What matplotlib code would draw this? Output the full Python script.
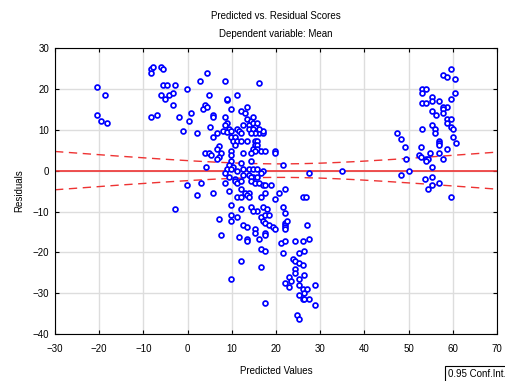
import numpy as np
import matplotlib
matplotlib.use("Agg")
import matplotlib.pyplot as plt

plt.rcParams['font.family'] = ['Liberation Sans', 'DejaVu Sans']
plt.rcParams['font.size'] = 7

# predicted values and residuals (pairs in order)
pred = [-20.4, -18.6, -20.4, -19.5, -18.2, -8.3, -7.8, -8.3, -6.0, -5.6,
        -5.6, -4.7, -2.8, -6.0, -5.1, -4.2, -3.3, -3.3, -8.3, -6.9,
        -1.9, -0.1, 0.8, 0.3, -1.0, 2.1, 2.9, -0.2, 3.0, 4.2,
        3.9, 4.8, 4.4, 3.9, 3.5, 4.4, 5.0, -2.9,
        5.7, 5.7, 5.7, 6.6, 9.8, 8.9, 8.4, 12.1, 13.4, 13.0,
        8.9, 8.4, 9.3, 8.0, 8.9, 9.8, 11.2, 11.6, 12.1,
        13.4, 14.3, 13.9, 14.8, 15.2, 15.7,
        13.9, 14.8, 15.7, 16.1, 17.0, 15.2, 14.3,
        9.8, 10.7, 10.2, 11.2, 10.7, 12.1, 13.4,
        15.2, 15.7, 15.2, 15.7, 14.8, 15.7,
        7.1, 6.6, 7.5, 7.1, 6.6, 5.3, 9.8, 9.8, 12.5,
        15.2, 14.3, 16.6, 17.4, 19.7, 19.7, 14.3, 9.8, 12.1,
        9.3, 10.2, 8.9, 9.8, 11.2, 12.5, 13.9, 14.8, 15.7, 17.0, 16.6,
        21.5, 27.4, 35.0,
        8.4, 9.3, 10.7, 12.5, 13.9, 14.8, 15.7, 14.3,
        2.1, 5.7, 8.4, 10.7, 11.2, 12.1, 14.3, 15.2, 16.1, 17.0, 17.4, 18.8,
        9.3, 12.1, 13.0, 13.9, 13.4, 11.2, 12.1, 13.9, 16.6, 17.4,
        22.0, 20.6, 19.7, 26.2, 26.7,
        9.8, 12.1, 14.3, 15.7, 17.0, 17.9, 14.8, 21.5, 22.0,
        7.1, 9.8, 9.8, 11.2, 16.6, 17.4, 18.4, 17.0, 17.4, 18.4, 19.3, 19.7,
        22.0, 22.0, 22.0, 22.5, 22.0, 27.0,
        12.5, 13.4, 15.2, 15.2, 17.4, 17.4, 16.1, 13.4, 13.4, 11.6, 7.5,
        21.1, 22.0, 24.3, 26.1, 27.4, 21.5, 25.1, 26.4,
        16.6, 17.4, 12.1, 16.6, 9.8, 17.4,
        23.8, 24.3, 25.1, 26.1, 24.3, 24.3, 22.9, 23.3, 22.0, 22.9,
        25.1, 26.4, 25.1, 26.1, 27.0, 26.4, 25.1, 26.1, 26.4, 27.4,
        28.8, 28.8, 24.7, 25.1,
        8.4, 16.1, 4.8, 11.2, 8.9, 14.8, 12.5, 17.0, 16.1,
        59.5, 57.7, 58.6, 60.4, 53.1, 54.0, 53.1, 60.4, 59.5, 53.1,
        54.0, 55.4, 55.4, 56.8, 58.6, 57.7, 57.7, 55.4, 56.3, 57.7,
        58.6, 59.5, 58.6, 59.5, 60.0, 55.4, 55.9, 55.9, 53.1, 60.0,
        60.8, 56.8, 56.8, 56.8, 52.7, 58.6, 54.9, 56.8, 52.3, 52.7,
        54.0, 54.5, 57.7, 55.4, 53.6, 55.4, 56.8, 55.4, 54.5, 59.5,
        54.0, 47.3, 48.2, 49.1, 49.5, 50.0, 48.2]

resid = [20.4, 18.5, 13.6, 12.2, 11.7, 24.9, 25.4, 23.9, 25.4, 24.9,
         21.0, 21.0, 21.0, 18.6, 17.6, 18.6, 19.0, 16.1, 13.2, 13.6,
         13.2, 20.0, 14.1, 12.2, 9.7, 9.2, 22.0, -3.4, -3.0, 0.9,
         4.3, 4.3, 23.9, 16.1, 15.1, 15.6, 10.7, -9.3,
         13.6, 13.2, 8.3, 9.2, 15.1, 17.2, 13.2, 14.6, 15.6, 14.1,
         11.7, 11.2, 10.2, 9.7, 9.4, 9.7, 10.2, 9.7, 9.2,
         12.7, 12.2, 11.2, 11.7, 10.7, 11.7,
         10.2, 10.2, 9.7, 9.2, 9.2, 9.2, 9.2,
         8.3, 8.3, 7.3, 7.3, 6.3, 7.3, 7.3,
         7.3, 7.3, 6.3, 6.3, 5.3, 5.3,
         6.0, 5.3, 4.3, 3.4, 2.9, 3.8, 4.8, 3.8, 4.3,
         4.8, 4.3, 4.8, 4.8, 4.8, 4.3, 2.4, 2.4, 1.9,
         1.4, 0.9, 0.4, 0.4, -0.1, 0.4, 0.4, 0.4, 0.4, -0.1, -0.6,
         1.4, -0.6, -0.2,
         -0.6, -1.5, -2.0, -1.1, -1.1, -1.5, -1.5, -1.5,
         -6.0, -5.5, -3.0, -2.5, -3.0, -2.5, -2.5, -3.0, -3.0, -3.5, -3.5, -3.5,
         -5.0, -4.5, -5.5, -5.5, -6.0, -6.4, -6.4, -6.4, -6.4, -5.5,
         -4.5, -5.5, -6.9, -6.4, -6.4,
         -8.4, -9.4, -8.9, -9.9, -8.9, -9.4, -9.9, -8.9, -10.4,
         -11.8, -10.9, -12.3, -11.3, -11.3, -10.9, -10.9, -12.3, -12.8, -13.3, -13.8, -14.3,
         -12.8, -13.3, -13.8, -12.3, -14.3, -13.3,
         -13.3, -13.8, -14.3, -15.3, -15.3, -15.8, -16.7, -16.7, -17.2, -16.3, -15.8,
         -17.7, -17.2, -17.2, -17.2, -16.7, -20.2, -20.2, -19.7,
         -19.2, -19.7, -22.1, -23.6, -26.5, -32.4,
         -21.6, -22.1, -22.6, -23.1, -24.1, -25.0, -26.1, -27.0, -27.5, -28.5,
         -26.5, -25.6, -28.0, -29.0, -29.0, -30.0, -30.5, -31.4, -31.4, -31.4,
         -28.0, -32.9, -35.4, -36.4,
         22.0, 21.5, 18.6, 18.6, 17.6, 13.2, 11.2, 9.7, 10.2,
         24.9, 23.5, 23.0, 22.5, 20.0, 20.0, 19.0, 19.0, 17.6, 16.6,
         16.6, 18.1, 17.1, 17.1, 15.6, 15.6, 15.1, 14.6, 13.6, 14.1,
         12.7, 12.7, 11.7, 10.7, 10.2, 11.2, 10.2, 9.2, 10.2, 8.3,
         6.8, 7.3, 6.8, 6.3, 5.8, 5.3, 4.3, 4.3, 3.8, 3.4,
         2.9, 2.9, 2.9, 0.9, -2.0, -1.5, -3.0, -3.5, -4.5, -6.4,
         2.4, 9.2, 7.8, 5.8, 2.9, -0.1, -1.1]

x = np.array(pred)
r = np.array(resid)

# 95% confidence band of the residual-on-predicted fit (fit line is zero)
n = len(x)
s = np.sqrt(np.sum(r ** 2) / (n - 2))
sxx = np.sum((x - x.mean()) ** 2)
xs = np.linspace(-30, 70, 200)
half = 1.97 * s * np.sqrt(1.0 / n + (xs - x.mean()) ** 2 / sxx)

fig = plt.figure(figsize=(5.06, 3.81), dpi=100)
ax = fig.add_axes([0.1087, 0.123, 0.8735, 0.751])

ax.axhline(0, color='#ee3333', lw=1.2, zorder=2)
ax.plot(xs, half, color='#ee3333', lw=1.0, dashes=(6, 4), zorder=2)
ax.plot(xs, -half, color='#ee3333', lw=1.0, dashes=(6, 4), zorder=2)
ax.plot(x, r, 'o', ms=3.5, mec='#0000ff', mfc='white', mew=1.25, ls='none', zorder=3)

ax.set_xlim(-30, 70)
ax.set_ylim(-40, 30)
ax.set_xticks(range(-30, 71, 10))
ax.set_yticks(range(-40, 31, 10))
ax.grid(True, color='#dddddd', lw=1.0)
ax.set_axisbelow(True)
ax.tick_params(axis='x', direction='in', length=3, width=0.8, top=True, labelsize=7, pad=7)
ax.tick_params(axis='y', direction='in', length=3, width=0.8, right=True, labelsize=7, pad=4)
for sp in ax.spines.values():
    sp.set_linewidth(0.8)

ax.set_xlabel('Predicted Values', fontsize=7, labelpad=9)
ax.set_ylabel('Residuals', fontsize=7, labelpad=6)

fig.text(0.545, 0.958, 'Predicted vs. Residual Scores', ha='center', va='center', fontsize=7)
fig.text(0.545, 0.911, 'Dependent variable: Mean', ha='center', va='center', fontsize=7)

fig.text(0.886, 0.018, '0.95 Conf.Int.', ha='left', va='center', fontsize=7,
         bbox=dict(boxstyle='square,pad=0.35', fc='white', ec='black', lw=0.8))

fig.savefig('out.png', dpi=100)
